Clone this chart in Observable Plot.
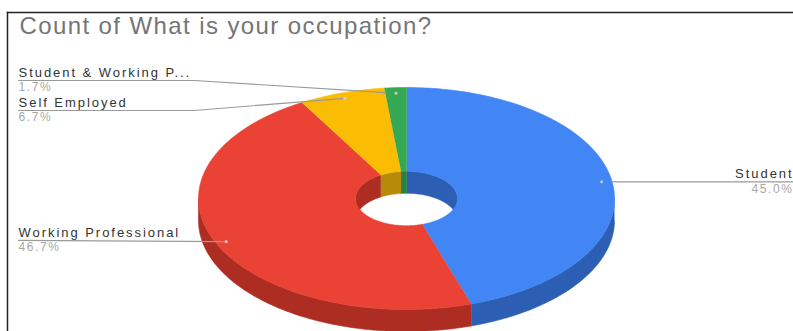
<!DOCTYPE html>
<html>
<head>
<meta charset="utf-8">
<script src="https://cdn.jsdelivr.net/npm/d3@7"></script>
<script src="https://cdn.jsdelivr.net/npm/@observablehq/plot@0.6"></script>
<style>
  html, body { margin: 0; background: #fff; }
  svg { display: block; }
  .chart-title text { letter-spacing: 1.4px; }
  .slice-name text { letter-spacing: 1.95px; }
  .slice-share text { letter-spacing: 1.6px; }
</style>
</head>
<body>
<div id="chart"></div>
<script>
// Survey answers, clockwise from twelve o'clock
const occupations = ["Student", "Working Professional", "Self Employed", "Student & Working P..."];
const shares = [45.0, 46.7, 6.7, 1.7];
const topColors = ["#4285f4", "#ea4335", "#fbbc04", "#34a853"];
const sideColors = ["#2c5fb3", "#ad2d22", "#b88a0a", "#26803e"];

// Disc proportions in pie units: outer radius is 1 on each axis
const holeRadius = 0.245;
const depth = 0.198;
const dotRadius = 0.95;

// Callout layout in pie units
const labelLeft = -1.865;
const labelRight = 1.861;
const elbowX = -1.02;
const calloutLineY = [null, 0.378, -0.793, -1.063];
const calloutStopX = [0.986, null, null, -0.101];

const total = d3.sum(shares);
const slices = [];
let running = 0;
shares.forEach((share, i) => {
  const start = (running / total) * 360;
  running += share;
  const end = (running / total) * 360;
  slices.push({i, name: occupations[i], share, start, end, mid: (start + end) / 2});
});

const rad = (a) => (a * Math.PI) / 180;
const px = (a, r) => Math.sin(rad(a)) * r;
const py = (a, r, drop = 0) => -Math.cos(rad(a)) * r + drop;

// Sample an arc from a to b in whole-degree steps, keeping both ends
function arc(a, b, r, drop = 0) {
  const n = Math.max(2, Math.ceil(Math.abs(b - a)) + 1);
  return d3.range(n).map((k) => {
    const t = a + ((b - a) * k) / (n - 1);
    return {x: px(t, r), y: py(t, r, drop)};
  });
}

// Closed outline between two arcs, tagged for the line mark
function band(part, color, first, second) {
  return [...first, ...second.reverse()].map((p) => ({...p, part, color}));
}

const outerRim = [];
const innerWall = [];
const topFace = [];
for (const s of slices) {
  // The outer rim shows on the front half of the disc
  const a = Math.max(s.start, 90);
  const b = Math.min(s.end, 270);
  if (b > a) {
    outerRim.push(...band(`rim${s.i}`, sideColors[s.i], arc(a, b, 1), arc(a, b, 1, depth)));
  }
  // The hole's wall shows on its back half
  for (const [lo, hi] of [[0, 90], [270, 360]]) {
    const c = Math.max(s.start, lo);
    const d = Math.min(s.end, hi);
    if (d > c) {
      innerWall.push(...band(`wall${s.i}-${lo}`, sideColors[s.i], arc(c, d, holeRadius), arc(c, d, holeRadius, depth)));
    }
  }
  topFace.push(...band(`top${s.i}`, topColors[s.i], arc(s.start, s.end, 1), arc(s.start, s.end, holeRadius)));
}

const dots = slices.map((s) => ({x: px(s.mid, dotRadius), y: py(s.mid, dotRadius)}));

// Each callout runs from its label out to the slice's dot
const callouts = slices.flatMap((s) => {
  const dot = dots[s.i];
  const lineY = calloutLineY[s.i] ?? dot.y;
  const stop = calloutStopX[s.i];
  const tag = (p) => ({...p, id: s.i});
  if (s.i === 0) {
    return [{x: stop, y: lineY}, {x: labelRight, y: lineY}].map(tag);
  }
  const pts = [{x: labelLeft, y: lineY}];
  if (Math.abs(dot.y - lineY) > 0.03) pts.push({x: elbowX, y: lineY});
  if (stop == null) {
    pts.push(dot);
  } else {
    const t = (stop - elbowX) / (dot.x - elbowX);
    pts.push({x: stop, y: lineY + (dot.y - lineY) * t});
  }
  return pts.map(tag);
});

const labels = slices.map((s) => ({
  name: s.name,
  pct: `${s.share.toFixed(1)}%`,
  x: s.i === 0 ? labelRight : labelLeft,
  y: calloutLineY[s.i] ?? dots[s.i].y,
  anchor: s.i === 0 ? "end" : "start"
}));
const leftLabels = labels.filter((d) => d.anchor === "start");
const rightLabels = labels.filter((d) => d.anchor === "end");

const solid = {x: "x", y: "y", z: "part", fill: "color", stroke: "color", strokeWidth: 0.6, curve: "linear"};
const textFont = "Liberation Sans, Arial, sans-serif";

function labelMarks(rows, textAnchor) {
  return [
    Plot.text(rows, {x: "x", y: "y", text: "name", textAnchor, dy: -8, fontSize: 13, fontFamily: textFont, fill: "#333", className: "slice-name"}),
    Plot.text(rows, {x: "x", y: "y", text: "pct", textAnchor, dy: 7, fontSize: 12, fontFamily: textFont, fill: "#a8a8a8", className: "slice-share"})
  ];
}

const chart = Plot.plot({
  width: 793,
  height: 331,
  marginLeft: 7,
  marginTop: 12,
  marginRight: 0,
  marginBottom: 0,
  axis: null,
  x: {domain: [-399 / 208, 387 / 208]},
  y: {domain: [-186 / 111, 133 / 111], reverse: true},
  color: {type: "identity"},
  marks: [
    Plot.line(outerRim, solid),
    Plot.line(innerWall, solid),
    Plot.line(topFace, solid),
    Plot.line(callouts, {x: "x", y: "y", z: "id", stroke: "#9a9a9a", strokeWidth: 1.2, curve: "linear"}),
    Plot.dot(dots, {x: "x", y: "y", r: 1.6, fill: "#d9d9d9", fillOpacity: 0.75, stroke: "none"}),
    ...labelMarks(leftLabels, "start"),
    ...labelMarks(rightLabels, "end"),
    Plot.text(["Count of What is your occupation?"], {
      frameAnchor: "top-left", dx: 12, dy: 4, fontSize: 24,
      fontFamily: textFont, fill: "#757575", className: "chart-title"
    }),
    Plot.frame({anchor: "left", stroke: "#222", strokeWidth: 1.5}),
    Plot.frame({anchor: "top", stroke: "#222", strokeWidth: 1.5})
  ]
});
document.getElementById("chart").append(chart);
</script>
</body>
</html>
